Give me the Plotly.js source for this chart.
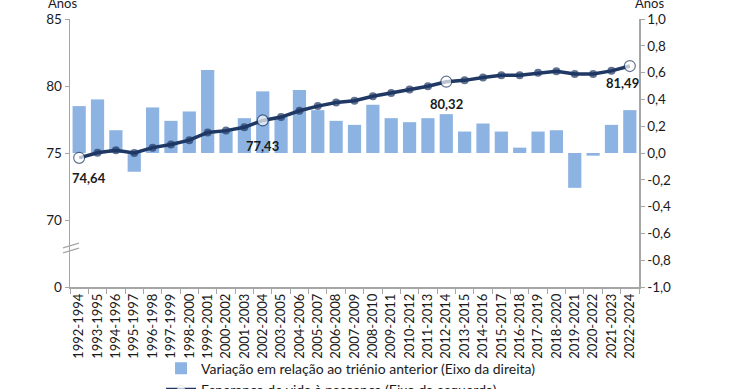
<!DOCTYPE html>
<html>
<head>
<meta charset="utf-8">
<script src="https://cdn.plot.ly/plotly-3.0.1.min.js"></script>
<style>html,body{margin:0;padding:0;background:#fff;}#chart{width:740px;height:389px;}</style>
</head>
<body>
<div id="chart"></div>
<script>
const categories = ["1992-1994","1993-1995","1994-1996","1995-1997","1996-1998","1997-1999","1998-2000","1999-2001","2000-2002","2001-2003","2002-2004","2003-2005","2004-2006","2005-2007","2006-2008","2007-2009","2008-2010","2009-2011","2010-2012","2011-2013","2012-2014","2013-2015","2014-2016","2015-2017","2016-2018","2017-2019","2018-2020","2019-2021","2020-2022","2021-2023","2022-2024"];
const variation = [0.35,0.40,0.17,-0.14,0.34,0.24,0.31,0.62,0.17,0.26,0.46,0.27,0.47,0.32,0.24,0.21,0.36,0.26,0.23,0.26,0.29,0.16,0.22,0.16,0.04,0.16,0.17,-0.26,-0.02,0.21,0.32];
const lifeExpectancy = [74.64,75.02,75.20,75.00,75.40,75.64,75.96,76.53,76.67,76.92,77.43,77.68,78.15,78.50,78.77,78.90,79.24,79.48,79.73,79.98,80.32,80.42,80.64,80.81,80.80,80.98,81.10,80.89,80.89,81.13,81.49];
const highlighted = [0,10,20,30];
const labelShiftX = [10,0,0,-7];
const labelShiftY = [-20,-26,-22,-17];
const leftTickVals = [65,70,75,80,85];
const leftTickText = ["0","70","75","80","85"];
const rightTickVals = [-1,-0.8,-0.6,-0.4,-0.2,0,0.2,0.4,0.6,0.8,1];
const rightTickText = rightTickVals.map(v => v.toFixed(1).replace('.', ','));

const navy = '#1F3864';
const barColor = '#8DB3E2';
const axisColor = '#A6A6A6';
const textColor = '#1a1a1a';
const fontFam = 'Lato, "Open Sans", sans-serif';

const isHi = lifeExpectancy.map((v,i) => highlighted.indexOf(i) >= 0);

const barTrace = {
  type: 'bar', x: categories, y: variation, yaxis: 'y',
  name: 'Variação em relação ao triénio anterior (Eixo da direita)',
  marker: {color: barColor}, hoverinfo: 'x+y'
};
const lineTrace = {
  type: 'scatter', mode: 'lines+markers', x: categories, y: lifeExpectancy, yaxis: 'y2',
  name: 'Esperança de vida à nascença (Eixo da esquerda)',
  line: {color: navy, width: 3.5},
  marker: {
    size: isHi.map(h => h ? 11 : 8),
    color: isHi.map(h => h ? '#ffffff' : navy),
    line: {color: navy, width: isHi.map(h => h ? 1.2 : 0)}
  }
};

const annotations = highlighted.map((idx, k) => ({
  x: categories[idx], y: lifeExpectancy[idx], xref: 'x', yref: 'y2',
  text: '<b>' + lifeExpectancy[idx].toFixed(2).replace('.', ',') + '</b>',
  showarrow: false, xshift: labelShiftX[k], yshift: labelShiftY[k],
  font: {family: fontFam, size: 13, color: textColor}
}));
annotations.push({xref:'paper', yref:'paper', x:-0.014, y:1.0, yshift: 6, xanchor:'center', yanchor:'bottom', text:'Anos', showarrow:false, font:{family:fontFam, size:13, color:textColor}});
annotations.push({xref:'paper', yref:'paper', x:1.019, y:1.0, yshift: 6, xanchor:'center', yanchor:'bottom', text:'Anos', showarrow:false, font:{family:fontFam, size:13, color:textColor}});

const layout = {
  width: 740, height: 389,
  margin: {l: 70, r: 101, t: 19, b: 102, pad: 0, autoexpand: false},
  paper_bgcolor: '#fff', plot_bgcolor: '#fff',
  font: {family: fontFam, size: 13, color: textColor},
  separators: ',.',
  showlegend: true,
  bargap: 0.28,
  xaxis: {
    type: 'category', range: [-0.5, categories.length - 0.5], tickangle: -90, ticks: 'outside', tickson: 'boundaries', ticklen: 5,
    tickcolor: axisColor, showline: true, linecolor: axisColor, linewidth: 1.5,
    showgrid: false, zeroline: false, tickfont: {size: 13, color: textColor}, automargin: false
  },
  yaxis: {
    side: 'right', range: [-1, 1], tickvals: rightTickVals, ticktext: rightTickText,
    ticks: 'outside', ticklen: 4, tickcolor: axisColor, showline: true, linecolor: axisColor, linewidth: 1.5,
    showgrid: false, zeroline: false, tickfont: {size: 13.5, color: textColor}, automargin: false
  },
  yaxis2: {
    side: 'left', overlaying: 'y', range: [65, 85], tickvals: leftTickVals, ticktext: leftTickText,
    ticks: 'outside', ticklen: 4, tickcolor: axisColor, showline: true, linecolor: axisColor, linewidth: 1.5,
    showgrid: false, zeroline: false, tickfont: {size: 13.5, color: textColor}, automargin: false
  },
  legend: {
    x: 0.16, xanchor: 'left', y: -0.245, yanchor: 'top', orientation: 'v',
    font: {family: fontFam, size: 14, color: textColor}, bgcolor: 'rgba(0,0,0,0)', itemwidth: 30
  },
  annotations: annotations,
  shapes: [
    {type:'line', xref:'paper', yref:'paper', x0:-0.0123, x1:0.0158, y0:0.146, y1:0.164, line:{color:axisColor, width:1.3}},
    {type:'line', xref:'paper', yref:'paper', x0:-0.0123, x1:0.0158, y0:0.127, y1:0.145, line:{color:axisColor, width:1.3}}
  ]
};

Plotly.newPlot('chart', [barTrace, lineTrace], layout, {staticPlot: true, displayModeBar: false});
</script>
</body>
</html>
